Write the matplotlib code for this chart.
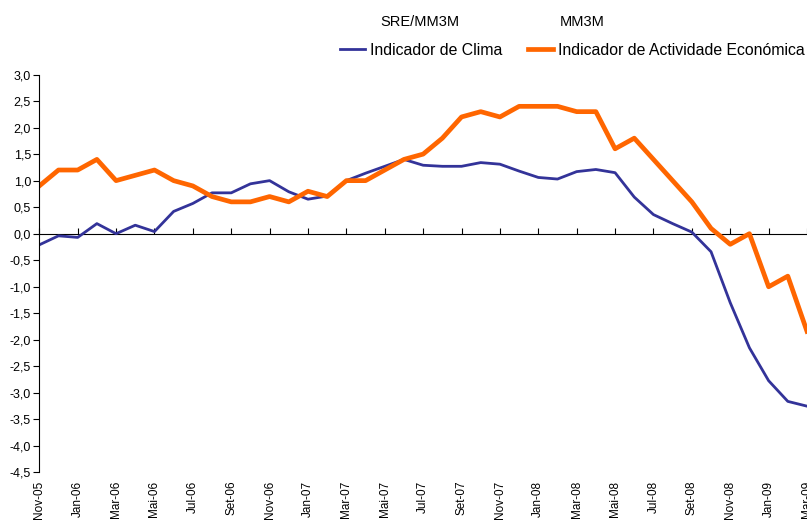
import matplotlib
matplotlib.use("Agg")
import matplotlib.pyplot as plt
from matplotlib.ticker import FuncFormatter

plt.rcParams['font.family'] = ['Liberation Sans', 'DejaVu Sans']

# monthly, Nov-05 .. Mar-09
months = ["Nov-05", "Dez-05", "Jan-06", "Fev-06", "Mar-06", "Abr-06", "Mai-06", "Jun-06",
          "Jul-06", "Ago-06", "Set-06", "Out-06", "Nov-06", "Dez-06", "Jan-07", "Fev-07",
          "Mar-07", "Abr-07", "Mai-07", "Jun-07", "Jul-07", "Ago-07", "Set-07", "Out-07",
          "Nov-07", "Dez-07", "Jan-08", "Fev-08", "Mar-08", "Abr-08", "Mai-08", "Jun-08",
          "Jul-08", "Ago-08", "Set-08", "Out-08", "Nov-08", "Dez-08", "Jan-09", "Fev-09",
          "Mar-09"]

clima = [-0.21, -0.04, -0.07, 0.19, 0.0, 0.16, 0.04, 0.42, 0.57, 0.77,
         0.77, 0.94, 1.0, 0.79, 0.65, 0.71, 1.0, 1.14, 1.27, 1.40,
         1.29, 1.27, 1.27, 1.34, 1.31, 1.18, 1.06, 1.03, 1.17, 1.21,
         1.15, 0.69, 0.36, 0.19, 0.03, -0.34, -1.30, -2.15, -2.77, -3.16,
         -3.25]

actividade = [0.9, 1.2, 1.2, 1.4, 1.0, 1.1, 1.2, 1.0, 0.9, 0.7,
              0.6, 0.6, 0.7, 0.6, 0.8, 0.7, 1.0, 1.0, 1.2, 1.4,
              1.5, 1.8, 2.2, 2.3, 2.2, 2.4, 2.4, 2.4, 2.3, 2.3,
              1.6, 1.8, 1.4, 1.0, 0.6, 0.1, -0.2, 0.0, -1.0, -0.8,
              -1.84]

blue = "#333399"
orange = "#FF6600"

fig = plt.figure(figsize=(8.07, 5.21), dpi=100)
ax = fig.add_axes([0.0487, 0.0931, 0.9513, 0.7639])

x = list(range(len(months)))
ax.plot(x, clima, color=blue, lw=2.0, label="Indicador de Clima")
ax.plot(x, actividade, color=orange, lw=3.4, label="Indicador de Actividade Económica")

ax.set_xlim(0, len(months) - 1)
ax.set_ylim(-4.5, 3.0)
ax.set_yticks([v / 2 for v in range(-9, 7)])
ax.yaxis.set_major_formatter(FuncFormatter(lambda v, p: ("%.1f" % v).replace(".", ",")))
ax.tick_params(axis='y', direction='out', length=4, width=0.8, labelsize=9, pad=2)

ax.set_xticks(x[::2])
ax.set_xticklabels(months[::2], rotation=90)
ax.tick_params(axis='x', length=0, labelsize=8.5, pad=6)

for s in ["top", "right", "bottom"]:
    ax.spines[s].set_visible(False)
ax.spines["left"].set_linewidth(0.8)

# zero line with tick marks
zero = ax.secondary_xaxis(4.5 / 7.5)
zero.set_xticks(x[::2])
zero.set_xticklabels([])
zero.tick_params(direction='out', length=4, width=0.8)
zero.spines["bottom"].set_linewidth(0.8)

fig.text(0.52, 0.958, "SRE/MM3M", ha="center", va="center", fontsize=10.5)
fig.text(0.722, 0.958, "MM3M", ha="center", va="center", fontsize=10.5)

fig.legend(loc="center left", bbox_to_anchor=(0.421, 0.904), ncol=2, frameon=False,
           fontsize=11.4, handlelength=1.6, handletextpad=0.3, columnspacing=1.6,
           borderpad=0, borderaxespad=0)

fig.savefig("out.png", dpi=100)
